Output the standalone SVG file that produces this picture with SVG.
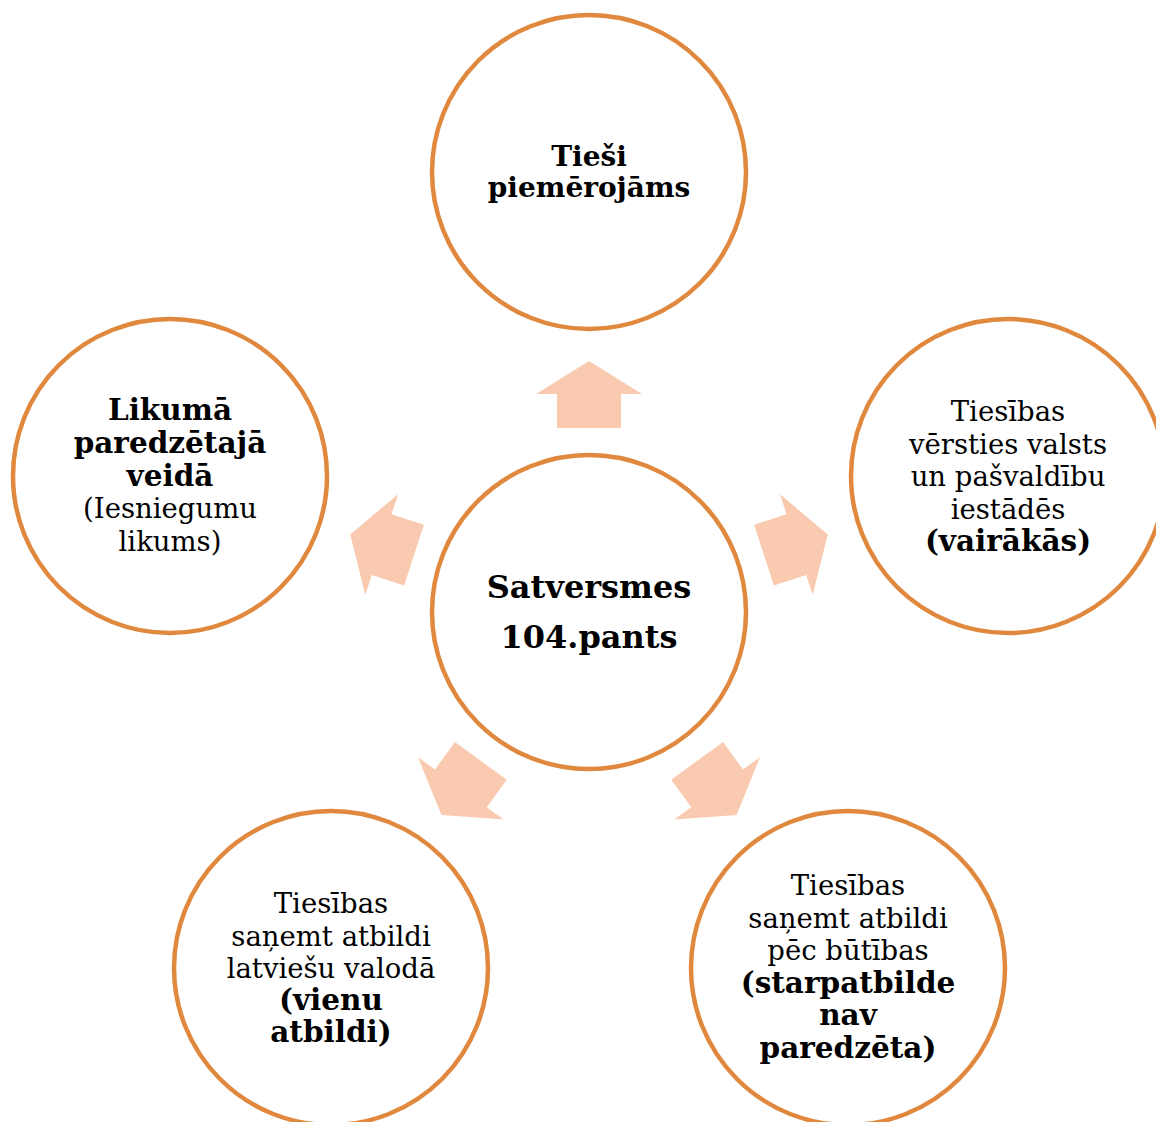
<svg xmlns="http://www.w3.org/2000/svg" xmlns:xlink="http://www.w3.org/1999/xlink" width="1156" height="1122" viewBox="0 0 1156 1122">
<style>
.node{fill:#FFFFFF;stroke:#E0883E;stroke-width:4.5}
.arr{fill:#F9CAB0}
text{font-family:"DejaVu Serif","Liberation Serif",serif;fill:#000;text-anchor:middle}
.r{font-size:27.5px}
.b{font-size:29.5px;font-weight:bold}
.t{font-size:28px;font-weight:bold}
.c{font-size:32px;font-weight:bold}
</style>
<defs>
<path id="arrow" class="arr" d="M589,361 L642,394 L621,394 L621,428 L557,428 L557,394 L536,394 Z"/>
</defs>
<rect width="1156" height="1122" fill="#FFFFFF"/>
<g id="connectors">
<use xlink:href="#arrow" href="#arrow"/>
<use xlink:href="#arrow" href="#arrow" transform="rotate(72 589 612)"/>
<use xlink:href="#arrow" href="#arrow" transform="rotate(144 589 612)"/>
<use xlink:href="#arrow" href="#arrow" transform="rotate(216 589 612)"/>
<use xlink:href="#arrow" href="#arrow" transform="rotate(288 589 612)"/>
</g>
<g id="center">
<circle class="node" cx="589" cy="612" r="157"/>
<text class="c" x="589" y="598">Satversmes</text>
<text class="c" x="589" y="648">104.pants</text>
</g>
<g id="top">
<circle class="node" cx="589" cy="172" r="157"/>
<text class="t" x="589" y="166">Tieši</text>
<text class="t" x="589" y="197">piemērojāms</text>
</g>
<g id="right">
<circle class="node" cx="1008" cy="476" r="157"/>
<text class="r" x="1008" y="421">Tiesības</text>
<text class="r" x="1008" y="454">vērsties valsts</text>
<text class="r" x="1008" y="486">un pašvaldību</text>
<text class="r" x="1008" y="519">iestādēs</text>
<text class="b" x="1008" y="551">(vairākās)</text>
</g>
<g id="bottom-right">
<circle class="node" cx="848" cy="968" r="157"/>
<text class="r" x="848" y="895">Tiesības</text>
<text class="r" x="848" y="928">saņemt atbildi</text>
<text class="r" x="848" y="960">pēc būtības</text>
<text class="b" x="848" y="993">(starpatbilde</text>
<text class="b" x="848" y="1025">nav</text>
<text class="b" x="848" y="1058">paredzēta)</text>
</g>
<g id="bottom-left">
<circle class="node" cx="331" cy="968" r="157"/>
<text class="r" x="331" y="913">Tiesības</text>
<text class="r" x="331" y="946">saņemt atbildi</text>
<text class="r" x="331" y="978">latviešu valodā</text>
<text class="b" x="331" y="1010">(vienu</text>
<text class="b" x="331" y="1042">atbildi)</text>
</g>
<g id="left">
<circle class="node" cx="170" cy="476" r="157"/>
<text class="b" x="170" y="420">Likumā</text>
<text class="b" x="170" y="453">paredzētajā</text>
<text class="b" x="170" y="486">veidā</text>
<text class="r" x="170" y="518">(Iesniegumu</text>
<text class="r" x="170" y="551">likums)</text>
</g>
</svg>
